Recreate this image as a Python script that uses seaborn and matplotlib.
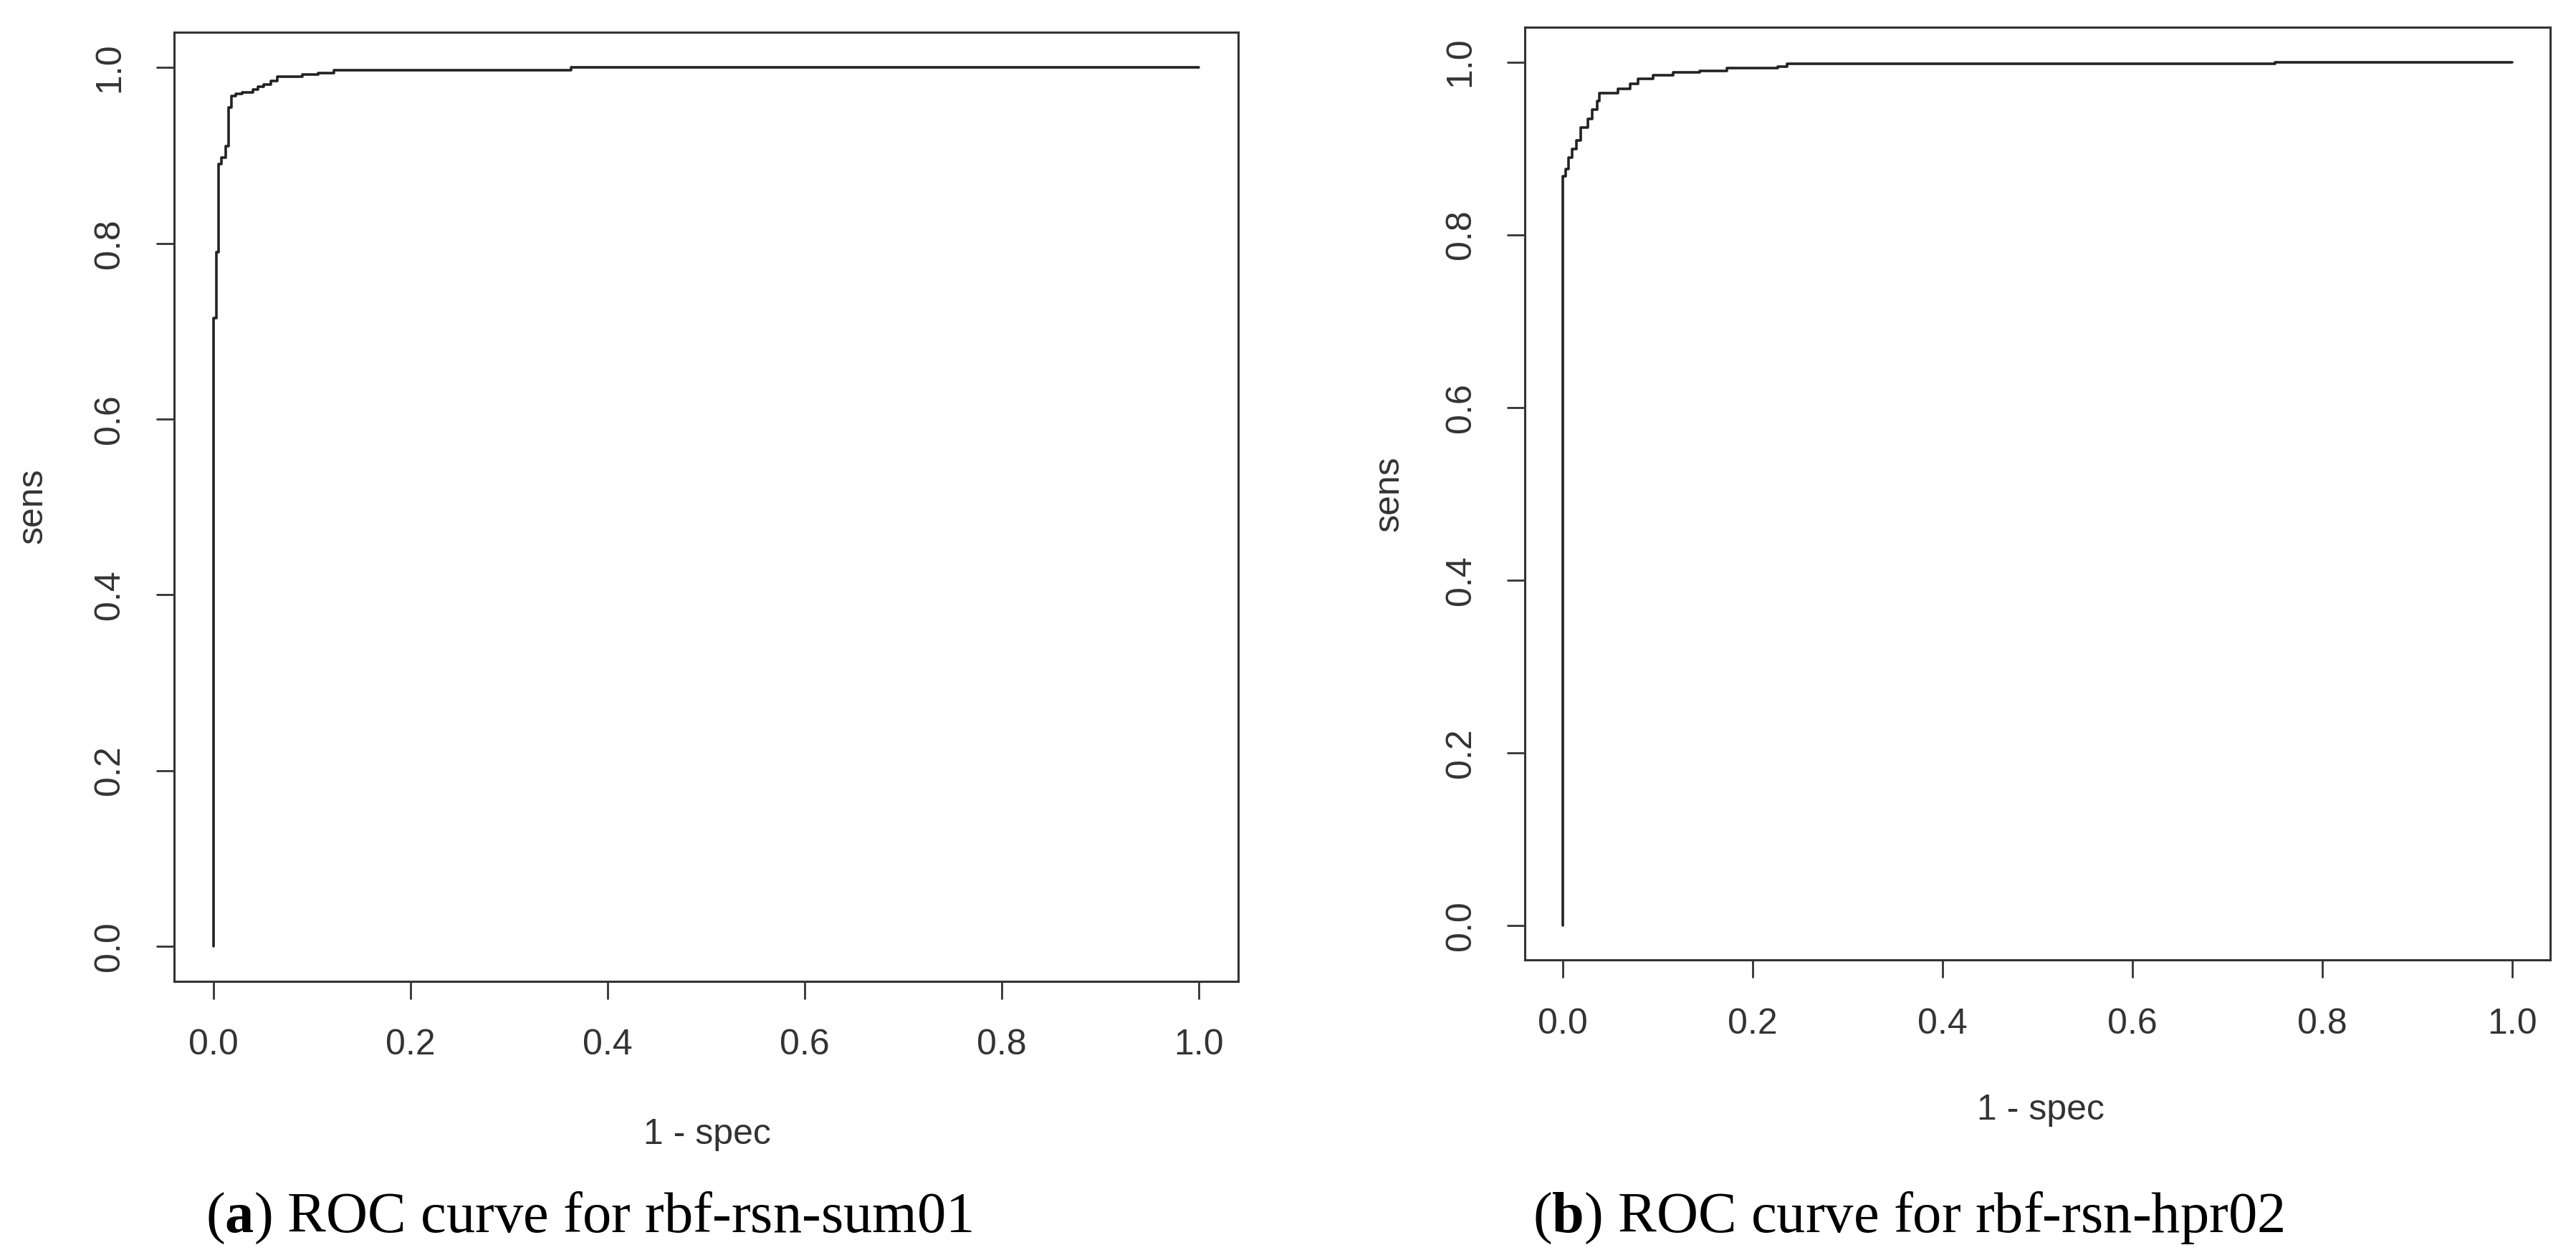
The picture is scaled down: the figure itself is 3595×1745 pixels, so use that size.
import numpy as np
import pandas as pd
import matplotlib
matplotlib.use("Agg")
import matplotlib.pyplot as plt
import seaborn as sns

# =========================================================
# DATA
# =========================================================
fpr_a = [0, 0, 0.0026, 0.005, 0.008, 0.012, 0.015, 0.018, 0.0225, 0.029, 0.040,
         0.045, 0.051, 0.058, 0.065, 0.090, 0.106, 0.122, 0.363, 1.0]
tpr_a = [0, 0.715, 0.790, 0.890, 0.898, 0.911, 0.955, 0.968, 0.970, 0.972, 0.975,
         0.978, 0.981, 0.985, 0.990, 0.992, 0.994, 0.997, 1.0, 1.0]

fpr_b = [0, 0, 0.003, 0.006, 0.010, 0.014, 0.019, 0.026, 0.031, 0.036, 0.038,
         0.058, 0.071, 0.079, 0.095, 0.116, 0.144, 0.173, 0.226, 0.236, 0.75, 1.0]
tpr_b = [0, 0.868, 0.876, 0.889, 0.899, 0.909, 0.924, 0.934, 0.945, 0.955, 0.964,
         0.969, 0.975, 0.981, 0.985, 0.988, 0.990, 0.993, 0.995, 0.998, 1.0, 1.0]

captions = ["a", "b"]
models = ["rbf-rsn-sum01", "rbf-rsn-hpr02"]
ticks = [0.0, 0.2, 0.4, 0.6, 0.8, 1.0]

# =========================================================
# STYLE
# =========================================================
sns.set_style("ticks")
plt.rcParams["font.family"] = ["Liberation Sans", "DejaVu Sans"]
plt.rcParams["mathtext.fontset"] = "custom"
plt.rcParams["mathtext.rm"] = "Liberation Serif"
plt.rcParams["mathtext.bf"] = "Liberation Serif:bold"

fig = plt.figure(figsize=(35.95, 17.45), dpi=100)

ax_a = fig.add_axes([0.0676, 0.215, 0.413, 0.759])
ax_b = fig.add_axes([0.592, 0.232, 0.398, 0.746])

for ax, fpr, tpr in [(ax_a, fpr_a, tpr_a), (ax_b, fpr_b, tpr_b)]:
    df = pd.DataFrame({"fpr": fpr, "tpr": tpr})
    sns.lineplot(data=df, x="fpr", y="tpr", sort=False, estimator=None,
                 drawstyle="steps-post", color="#222222", linewidth=2.6, ax=ax)
    ax.set_xlim(-0.04, 1.04)
    ax.set_ylim(-0.04, 1.04)
    ax.set_xticks(ticks)
    ax.set_yticks(ticks)
    ax.set_xticklabels([f"{t:.1f}" for t in ticks])
    ax.set_yticklabels([f"{t:.1f}" for t in ticks], rotation=90, va="center")
    ax.tick_params(labelsize=36, length=18, width=2, pad=30, colors="#333333",
                   labelcolor="#333333")
    for s in ax.spines.values():
        s.set_linewidth(2.2)
        s.set_color("#333333")
    ax.set_xlabel("")
    ax.set_ylabel("")

# axis labels as figure text (R style positions)
fig.text(987 / 3595, 1 - 1584 / 1745, "1 - spec", ha="center", va="center",
         fontsize=36, color="#333333")
fig.text(46 / 3595, 1 - 706 / 1745, "sens", ha="center", va="center",
         rotation=90, fontsize=36, color="#333333")
fig.text(2848 / 3595, 1 - 1550 / 1745, "1 - spec", ha="center", va="center",
         fontsize=36, color="#333333")
fig.text(1939 / 3595, 1 - 689 / 1745, "sens", ha="center", va="center",
         rotation=90, fontsize=36, color="#333333")

# captions
for xpos, c, m in zip([287 / 3595, 2139 / 3595], captions, models):
    fig.text(xpos, 1 - 1700 / 1745, r"($\mathbf{" + c + r"}$) ROC curve for " + m,
             ha="left", va="center", fontsize=58, family="Liberation Serif",
             color="black")

fig.savefig("out.png", dpi=100, facecolor="white")
